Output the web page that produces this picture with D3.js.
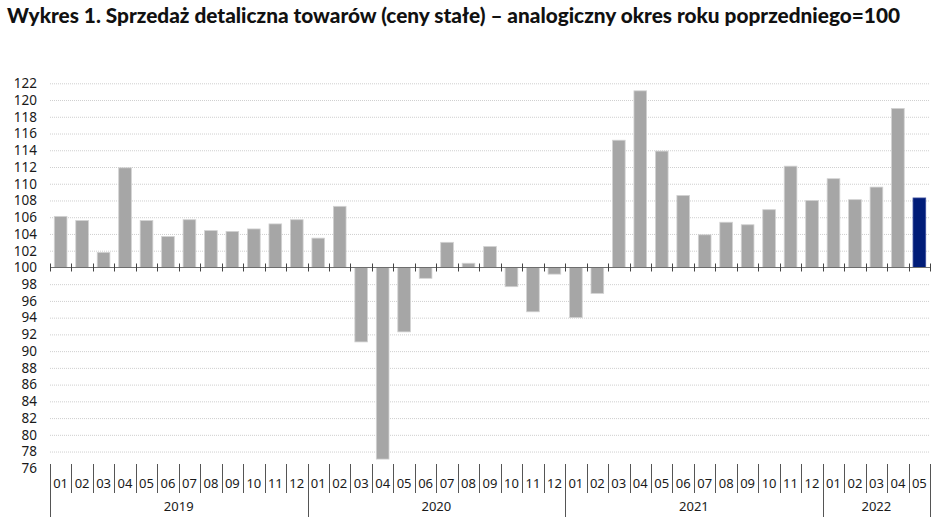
<!DOCTYPE html>
<html>
<head>
<meta charset="utf-8">
<script src="https://cdn.jsdelivr.net/npm/d3@7"></script>
<style>
  html, body { margin: 0; padding: 0; background: #fff; }
  svg { display: block; }
</style>
</head>
<body>
<svg id="chart" width="948" height="529"></svg>
<script>
const title = "Wykres 1. Sprzedaż detaliczna towarów (ceny stałe) – analogiczny okres roku poprzedniego=100";
const years = ["2019", "2020", "2021", "2022"];
const monthsPerYear = [12, 12, 12, 5];
const months = ["01","02","03","04","05","06","07","08","09","10","11","12"];
const values = [
  106.1, 105.6, 101.8, 111.9, 105.6, 103.7, 105.7, 104.4, 104.3, 104.6, 105.2, 105.7,
  103.5, 107.3, 91.1, 77.1, 92.3, 98.7, 103.0, 100.5, 102.5, 97.7, 94.7, 99.2,
  94.0, 96.9, 115.2, 121.1, 113.9, 108.6, 103.9, 105.4, 105.1, 106.9, 112.1, 108.0,
  110.6, 108.1, 109.6, 119.0, 108.3
];
const yTicks = d3.range(76, 123, 2);
const baseValue = 100;

const cats = [];
years.forEach((y, yi) => {
  for (let m = 0; m < monthsPerYear[yi]; m++) cats.push({ key: y + "-" + months[m], year: y, month: months[m] });
});
const data = cats.map((c, i) => ({ ...c, value: values[i], last: i === cats.length - 1 }));

const svg = d3.select("#chart");
const x = d3.scaleBand().domain(data.map(d => d.key)).range([50, 930]).paddingInner(0.41).paddingOuter(0.2);
const y = d3.scaleLinear().domain([76, 122]).range([468.3, 83.3]);
const edge = k => x(k) - (x.step() - x.bandwidth()) / 2;

// title
svg.append("text")
  .attr("x", 7).attr("y", 23)
  .attr("font-family", "Lato, sans-serif")
  .attr("font-weight", 900)
  .attr("font-size", 20)
  .attr("fill", "#111")
  .attr("textLength", 893).attr("lengthAdjust", "spacingAndGlyphs")
  .text(title);

// gridlines
svg.append("g").selectAll("line")
  .data(yTicks.filter(v => v !== baseValue && v !== 76))
  .join("line")
  .attr("x1", 50).attr("x2", 930)
  .attr("y1", d => y(d) + 0.5).attr("y2", d => y(d) + 0.5)
  .attr("stroke", "#cfcfcf").attr("stroke-width", 1)
  .attr("stroke-dasharray", "1,1");

// y axis labels
const yAxis = d3.axisLeft(y).tickValues(yTicks).tickSize(0).tickPadding(0).tickFormat(d3.format("d"));
const gy = svg.append("g").attr("transform", "translate(37,0)").call(yAxis);
gy.select(".domain").remove();
gy.selectAll("text")
  .attr("font-family", "'Noto Sans', sans-serif")
  .attr("font-size", 13.5)
  .attr("fill", "#1a1a1a");

// bars
svg.append("g").selectAll("rect")
  .data(data)
  .join("rect")
  .attr("x", d => x(d.key))
  .attr("width", x.bandwidth())
  .attr("y", d => y(Math.max(d.value, baseValue)))
  .attr("height", d => Math.abs(y(d.value) - y(baseValue)))
  .attr("fill", d => d.last ? "#001c78" : "#a6a6a6")
  .attr("stroke", d => d.last ? "#3b4f9e" : "#d2d2d2")
  .attr("stroke-width", 0.8);

// baseline axis with ticks at band edges
const y0 = Math.round(y(baseValue)) + 0.5;
svg.append("line")
  .attr("x1", 50).attr("x2", 930).attr("y1", y0).attr("y2", y0)
  .attr("stroke", "#6e6e6e").attr("stroke-width", 1.2);
const edges = data.map(d => edge(d.key)).concat([930]);
svg.append("g").selectAll("line")
  .data(edges)
  .join("line")
  .attr("x1", d => Math.round(d) + 0.5).attr("x2", d => Math.round(d) + 0.5)
  .attr("y1", y0 - 4).attr("y2", y0 + 4)
  .attr("stroke", "#444").attr("stroke-width", 1);

// bottom category axis separators
const yearStarts = new Set();
let idx = 0;
monthsPerYear.forEach(n => { yearStarts.add(idx); idx += n; });
yearStarts.add(data.length);
svg.append("g").selectAll("line")
  .data(edges.map((e, i) => ({ e, i })))
  .join("line")
  .attr("x1", d => Math.round(d.e) + 0.5).attr("x2", d => Math.round(d.e) + 0.5)
  .attr("y1", 464)
  .attr("y2", d => yearStarts.has(d.i) ? 517 : 493)
  .attr("stroke", "#555").attr("stroke-width", 1);

// month labels
svg.append("g").selectAll("text")
  .data(data)
  .join("text")
  .attr("x", d => x(d.key) + x.bandwidth() / 2)
  .attr("y", 488)
  .attr("text-anchor", "middle")
  .attr("font-family", "'Noto Sans', sans-serif")
  .attr("font-size", 13)
  .attr("fill", "#1a1a1a")
  .text(d => d.month);

// year labels
let start = 0;
years.forEach((yr, yi) => {
  const n = monthsPerYear[yi];
  const a = edge(data[start].key), b = edges[start + n];
  svg.append("text")
    .attr("x", (a + b) / 2)
    .attr("y", 511)
    .attr("text-anchor", "middle")
    .attr("font-family", "'Noto Sans', sans-serif")
    .attr("font-size", 13)
    .attr("fill", "#1a1a1a")
    .text(yr);
  start += n;
});
</script>
</body>
</html>
